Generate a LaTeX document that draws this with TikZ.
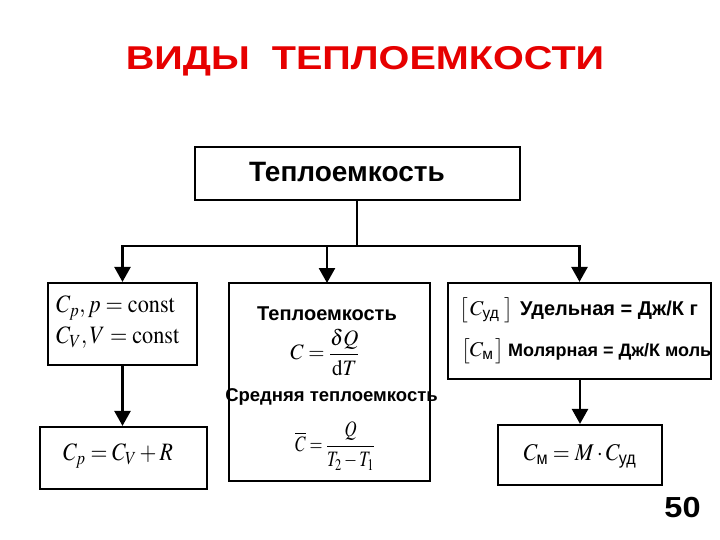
\documentclass[tikz,border=0pt]{standalone}
\usepackage{amsmath}
\usepackage{graphicx}
\usepackage{mathptmx}
\usepackage[no-math]{fontspec}
\setmainfont{Liberation Sans}
\usetikzlibrary{arrows.meta}
\definecolor{titlered}{RGB}{230,0,0}
\newcommand{\fs}[1]{\fontsize{#1}{#1}\selectfont}
\newcommand{\xs}[2]{\scalebox{#1}[1]{#2}}
\begin{document}
\begin{tikzpicture}[x=1pt,y=-1pt,
  box/.style={draw, line width=2.2pt, inner sep=0pt, fill=white},
  conn/.style={line width=2.6pt},
  arr/.style={line width=2.6pt, -{Triangle[length=15pt,width=16pt]}},
  lbl/.style={inner sep=0pt, font=\bfseries},
  mth/.style={inner sep=0pt}]
\useasboundingbox (0,0) rectangle (720,540);
\fill[white] (0,0) rectangle (720,540);

\node[lbl, text=titlered, font=\bfseries\fs{33}] (title) at (365,61) {\xs{1.2}{ВИДЫ\ \ ТЕПЛОЕМКОСТИ}};

\node[box, minimum width=325pt, minimum height=53pt] (top) at (357.5,173.5) {};
\node[lbl, font=\bfseries\fs{28}] (toptxt) at (347,172) {Теплоемкость};

\node[box, minimum width=149pt, minimum height=82pt] (b1) at (122.5,324) {};
\node[mth, anchor=west, font=\fs{25}] (b1a) at (56,308) {\xs{0.89}{$C_p, p = \mathrm{const}$}};
\node[mth, anchor=west, font=\fs{25}] (b1b) at (56,338) {\xs{0.89}{$C_V, V = \mathrm{const}$}};

\node[box, minimum width=201pt, minimum height=198pt] (b2) at (329.5,382) {};
\node[lbl, font=\bfseries\fs{20}] (b2a) at (327,314) {Теплоемкость};
\node[mth, font=\fs{22}] (b2f) at (325,352) {\xs{0.95}{$C = \dfrac{\delta Q}{\mathrm{d}T}$}};
\node[lbl, font=\bfseries\fs{18.5}] (b2b) at (331.5,397) {Средняя теплоемкость};
\node[mth, font=\fs{22}] (b2g) at (335,446) {\xs{0.76}{$\overline{C} = \dfrac{Q}{T_2 - T_1}$}};

\node[box, minimum width=263pt, minimum height=96pt] (b3) at (579.5,331) {};
\node[mth, anchor=west, font=\fs{21}] (b3a) at (459,310) {$\big[\,C_{\text{уд}}\hspace{5pt}\big]$};
\node[lbl, anchor=west, font=\bfseries\fs{20}] (b3at) at (520,310) {Удельная = Дж/К г};
\node[mth, anchor=west, font=\fs{21}] (b3b) at (461,351) {$\big[C_{\text{м}}\hspace{2pt}\big]$};
\node[lbl, anchor=west, font=\bfseries\fs{18}] (b3bt) at (508,352) {Молярная = Дж/К моль};

\node[box, minimum width=167pt, minimum height=62pt] (b4) at (123.5,458) {};
\node[mth, font=\fs{25}] (b4f) at (118,456) {\xs{0.87}{$C_p = C_V + R$}};

\node[box, minimum width=164pt, minimum height=60pt] (b5) at (580,455) {};
\node[mth, font=\fs{24}] (b5f) at (580,456) {\xs{0.91}{$C_{\text{м}} = M \cdot C_{\text{уд}}$}};

\node[lbl, font=\bfseries\fs{29}] (num) at (682.5,507.5) {\xs{1.12}{50}};

\coordinate (j) at (357,246);
\draw[conn] (top.south -| j) -- (j);
\draw[arr] (j) -| (b1.north);
\draw[arr] (j) -| (327,283);
\draw[arr] (j) -| (b3.north);
\draw[arr] (b1.south) -- (b1.south |- b4.north);
\draw[arr] (b3.south -| b5.north) -- (b5.north);
\end{tikzpicture}
\end{document}
